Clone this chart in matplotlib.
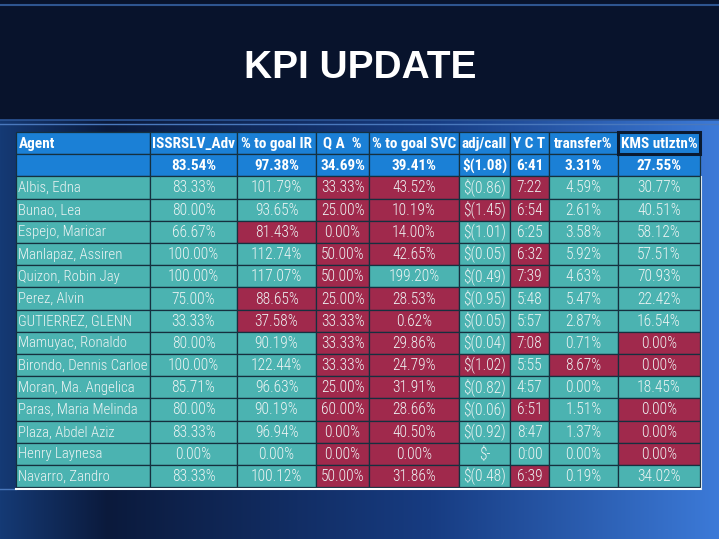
import numpy as np
import matplotlib
matplotlib.use("Agg")
import matplotlib.pyplot as plt
from matplotlib.patches import Rectangle
from matplotlib import font_manager as fm

title = "KPI UPDATE"
headers = ["Agent", "ISSRSLV_Adv", "% to goal IR", "Q A  %", "% to goal SVC",
           "adj/call", "Y C T", "transfer%", "KMS utlztn%"]
summary = ["", "83.54%", "97.38%", "34.69%", "39.41%", "$(1.08)", "6:41", "3.31%", "27.55%"]
agents = ["Albis, Edna", "Bunao, Lea", "Espejo, Maricar", "Manlapaz, Assiren",
          "Quizon, Robin Jay", "Perez, Alvin", "GUTIERREZ, GLENN", "Mamuyac, Ronaldo",
          "Birondo, Dennis Carloe", "Moran, Ma. Angelica", "Paras, Maria Melinda",
          "Plaza, Abdel Aziz", "Henry Laynesa", "Navarro, Zandro"]
issrslv = ["83.33%", "80.00%", "66.67%", "100.00%", "100.00%", "75.00%", "33.33%",
           "80.00%", "100.00%", "85.71%", "80.00%", "83.33%", "0.00%", "83.33%"]
goal_ir = ["101.79%", "93.65%", "81.43%", "112.74%", "117.07%", "88.65%", "37.58%",
           "90.19%", "122.44%", "96.63%", "90.19%", "96.94%", "0.00%", "100.12%"]
qa = ["33.33%", "25.00%", "0.00%", "50.00%", "50.00%", "25.00%", "33.33%",
      "33.33%", "33.33%", "25.00%", "60.00%", "0.00%", "0.00%", "50.00%"]
goal_svc = ["43.52%", "10.19%", "14.00%", "42.65%", "199.20%", "28.53%", "0.62%",
            "29.86%", "24.79%", "31.91%", "28.66%", "40.50%", "0.00%", "31.86%"]
adj_call = ["$(0.86)", "$(1.45)", "$(1.01)", "$(0.05)", "$(0.49)", "$(0.95)", "$(0.05)",
            "$(0.04)", "$(1.02)", "$(0.82)", "$(0.06)", "$(0.92)", "$-", "$(0.48)"]
yct = ["7:22", "6:54", "6:25", "6:32", "7:39", "5:48", "5:57",
       "7:08", "5:55", "4:57", "6:51", "8:47", "0:00", "6:39"]
transfer = ["4.59%", "2.61%", "3.58%", "5.92%", "4.63%", "5.47%", "2.87%",
            "0.71%", "8.67%", "0.00%", "1.51%", "1.37%", "0.00%", "0.19%"]
kms = ["30.77%", "40.51%", "58.12%", "57.51%", "70.93%", "22.42%", "16.54%",
       "0.00%", "0.00%", "18.45%", "0.00%", "0.00%", "0.00%", "34.02%"]
# status per row: G = on target (teal), R = below target (maroon); one char per column
status = ["GGGRRGRGG", "GGGRRRRGG", "GGRRRGGGG", "GGGRRGRGG", "GGGRGGRGG",
          "GGRRRGGGG", "GGRRRGGGG", "GGGRRGRGR", "GGGRRRGRR", "GGGRRGGGG",
          "GGGRRGRGR", "GGGRRGGGR", "GGGRRGGGR", "GGGRRGRGG"]

columns = [agents, issrslv, goal_ir, qa, goal_svc, adj_call, yct, transfer, kms]

# ---- font selection: prefer a narrow / condensed sans face ----
def is_narrow(f):
    n = (f.name + " " + f.fname).lower()
    return ("narrow" in n or "condensed" in n or
            str(f.stretch).lower() in ("condensed", "semi-condensed", "extra-condensed"))

def wt(f):
    w = f.weight
    if isinstance(w, str):
        w = {"bold": 700, "normal": 400, "regular": 400, "light": 300}.get(w, 400)
    return w

def find_font(target):
    prefs = ["liberation sans narrow", "arial narrow", "roboto condensed", "noto sans",
             "dejavu sans", "open sans", "inter", "lato"]
    cands = [f for f in fm.fontManager.ttflist if is_narrow(f)
             and "mono" not in f.name.lower() and "serif" not in f.name.lower()
             and "italic" not in f.fname.lower() and f.style == "normal"]
    for p in prefs:
        grp = [f for f in cands if f.name.lower().startswith(p)]
        if target >= 600:
            grp = [f for f in grp if wt(f) >= 600]
        else:
            grp = [f for f in grp if 250 <= wt(f) < 600]
        if grp:
            grp.sort(key=lambda f: abs(wt(f) - target))
            return grp[0]
    return None

lf = find_font(300)
bf = find_font(700)
if lf is not None:
    data_fp = fm.FontProperties(fname=lf.fname, size=11.2)
    name_fp = fm.FontProperties(fname=lf.fname, size=10.6)
else:
    data_fp = fm.FontProperties(family="Liberation Sans", size=10)
    name_fp = fm.FontProperties(family="Liberation Sans", size=9.6)
if bf is not None:
    hdr_fp = fm.FontProperties(fname=bf.fname, size=11)
    sum_fp = fm.FontProperties(fname=bf.fname, size=11)
else:
    hdr_fp = fm.FontProperties(family="Liberation Sans", weight="bold", size=8.8)
    sum_fp = fm.FontProperties(family="Liberation Sans", weight="bold", size=10.5)

W, H = 719, 539
fig = plt.figure(figsize=(W / 100, H / 100), dpi=100)
ax = fig.add_axes([0, 0, 1, 1])
ax.set_xlim(0, W)
ax.set_ylim(H, 0)
ax.axis("off")

# background
xs = np.linspace(0, 1, W)
ys = np.linspace(0, 1, H)
X, Y = np.meshgrid(xs, ys)
c_left = np.array([0x15, 0x3a, 0x75]) / 255
c_dark = np.array([0x0b, 0x1a, 0x3c]) / 255
c_mid = np.array([0x17, 0x3c, 0x82]) / 255
c_right = np.array([0x3c, 0x7a, 0xd8]) / 255
img = np.zeros((H, W, 3))
for a, b, x0, x1 in [(c_left, c_dark, 0.0, 0.15), (c_dark, c_mid, 0.15, 0.6),
                     (c_mid, c_right, 0.6, 1.0)]:
    m = (X >= x0) & (X <= x1)
    t = ((X - x0) / (x1 - x0))[..., None]
    mix = a * (1 - t) + b * t
    img[m] = mix[m]
top = np.array([0x08, 0x13, 0x2c]) / 255
img[:120] = top
ax.imshow(img, extent=[0, W, H, 0], aspect="auto", zorder=0)
ax.plot([0, W], [5, 5], color="#2e5590", lw=1.5, zorder=1)
ax.plot([0, W], [120, 120], color="#2c5596", lw=1.2, zorder=1)
ax.plot([0, W], [123.5, 123.5], color="#4a78bc", lw=1.0, zorder=1)

tfp = fm.FontProperties(family=["Liberation Sans", "DejaVu Sans"], weight="bold", size=28)
ax.text(360, 68, title, color="white", fontproperties=tfp,
        ha="center", va="center", zorder=5)

# table geometry
col_edges = [16, 150, 237, 316, 369, 459, 510, 549, 618, 700]
row_top = 132
row_h = 22.2
teal = "#4bb3b1"
maroon = "#a0294c"
hdr_blue = "#1b80d6"
grid = "#15303f"

def cell(ci, ri, color):
    x0, x1 = col_edges[ci], col_edges[ci + 1]
    y0 = row_top + ri * row_h
    ax.add_patch(Rectangle((x0, y0), x1 - x0, row_h, facecolor=color,
                           edgecolor=grid, lw=0.9, zorder=2))
    return (x0, x1, y0)

for ci, h in enumerate(headers):
    x0, x1, y0 = cell(ci, 0, hdr_blue)
    xc = x0 + 3 if ci == 0 else (x0 + x1) / 2
    ax.text(xc, y0 + row_h / 2 + 0.5, h, color="white", fontproperties=hdr_fp,
            ha="left" if ci == 0 else "center", va="center", zorder=4)
    x0, x1, y0 = cell(ci, 1, hdr_blue)
    ax.text((x0 + x1) / 2, y0 + row_h / 2 + 0.5, summary[ci], color="white",
            fontproperties=sum_fp, ha="center", va="center", zorder=4)

# selected cell outline
ax.add_patch(Rectangle((col_edges[8], row_top), col_edges[9] - col_edges[8], row_h,
                       facecolor="none", edgecolor="#0a1a30", lw=2.2, zorder=3))

for ri in range(len(agents)):
    for ci, col in enumerate(columns):
        color = teal if status[ri][ci] == "G" else maroon
        x0, x1, y0 = cell(ci, ri + 2, color)
        xc = x0 + 2 if ci == 0 else (x0 + x1) / 2
        ax.text(xc, y0 + row_h / 2 + 0.5, col[ri], color="#eef4f4",
                fontproperties=name_fp if ci == 0 else data_fp,
                ha="left" if ci == 0 else "center", va="center", zorder=4)

bottom = row_top + (len(agents) + 2) * row_h
ax.plot([col_edges[0], col_edges[-1]], [bottom + 1.5, bottom + 1.5], color="white", lw=1.5, zorder=4)
ax.plot([col_edges[-1] + 1, col_edges[-1] + 1], [row_top + 2 * row_h, bottom + 1.5],
        color="#dde8f0", lw=0.8, zorder=4)
ax.plot([0, col_edges[0]], [bottom + 2, bottom + 2], color="#4a78bc", lw=1.0, zorder=1)

fig.savefig("out.png", dpi=100)
